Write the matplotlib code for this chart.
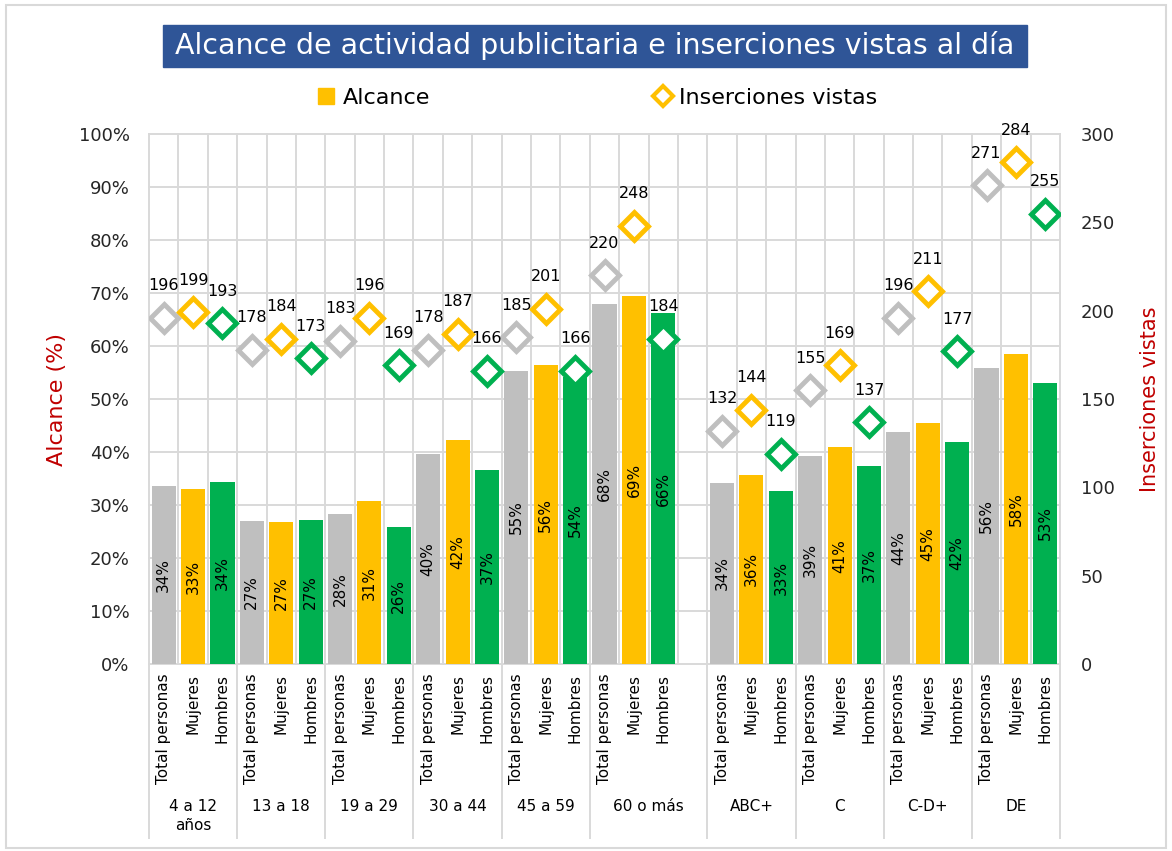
import matplotlib
matplotlib.use("Agg")
import matplotlib.pyplot as plt
from matplotlib.patches import Rectangle
from matplotlib.lines import Line2D
from matplotlib.transforms import blended_transform_factory
import numpy as np

plt.rcParams['font.family'] = ['DejaVu Sans']

grupos = ['4 a 12\naños', '13 a 18', '19 a 29', '30 a 44', '45 a 59', '60 o más',
          'ABC+', 'C', 'C-D+', 'DE']
subgrupos = ['Total personas', 'Mujeres', 'Hombres']

# alcance (%) por grupo
alcance_total = [33.6, 27.0, 28.3, 39.6, 55.3, 67.9, 34.2, 39.2, 43.7, 55.9]
alcance_mujeres = [33.0, 26.8, 30.7, 42.3, 56.4, 69.4, 35.7, 40.9, 45.4, 58.4]
alcance_hombres = [34.3, 27.2, 25.8, 36.6, 54.2, 66.2, 32.6, 37.4, 41.8, 53.1]

# inserciones vistas al dia
ins_total = [196, 178, 183, 178, 185, 220, 132, 155, 196, 271]
ins_mujeres = [199, 184, 196, 187, 201, 248, 144, 169, 211, 284]
ins_hombres = [193, 173, 169, 166, 166, 184, 119, 137, 177, 255]

colores = ['#BFBFBF', '#FFC000', '#00B050']
grid_c = '#D9D9D9'
rojo = '#C00000'

alcance = [alcance_total, alcance_mujeres, alcance_hombres]
inserciones = [ins_total, ins_mujeres, ins_hombres]

# posicion de cada grupo (hay un hueco entre edades y NSE)
base = np.array([3 * i + (1 if i >= 6 else 0) for i in range(len(grupos))])
n_slots = base[-1] + 3

fig = plt.figure(figsize=(11.72, 8.51), dpi=100)
ax = fig.add_axes([149 / 1172, 1 - 664 / 851, 911 / 1172, 530 / 851])
ax2 = ax.twinx()

# cuadricula
for t in range(0, 101, 10):
    ax.axhline(t, color=grid_c, lw=1.4, zorder=0.5, clip_on=False)
for b in np.arange(-0.5, n_slots, 1):
    ax.axvline(b, color=grid_c, lw=1.4, zorder=0.5, clip_on=False)

for j in range(3):
    xs = base + j
    vals = alcance[j]
    ax.bar(xs, vals, width=0.82, color=colores[j], zorder=2)
    for x, v in zip(xs, vals):
        ax.text(x, v / 2, f"{v:.0f}%", rotation=90, ha='center', va='center',
                fontsize=11, zorder=3)

ax.set_xlim(-0.5, n_slots - 0.5)
ax.set_ylim(0, 100)
ax.set_yticks(range(0, 101, 10))
ax.set_yticklabels([f"{t}%" for t in range(0, 101, 10)], fontsize=13, color='#262626')

ticks = np.concatenate([base + j for j in range(3)])
tick_labels = [subgrupos[j] for j in range(3) for _ in base]
ax.set_xticks(ticks)
ax.set_xticklabels(tick_labels, rotation=90, fontsize=11, va='top')
ax.tick_params(axis='x', length=0, pad=7)
ax.tick_params(axis='y', length=0, pad=14)

trans = blended_transform_factory(ax.transData, ax.transAxes)
bordes = [-0.5] + [b - 0.5 for b in base[1:]] + [n_slots - 0.5]
for b in bordes:
    ax.plot([b, b], [0, -0.328], transform=trans, color=grid_c, lw=1.4, clip_on=False)
for i, g in enumerate(grupos):
    centro = (bordes[i] + bordes[i + 1]) / 2
    ax.text(centro, -0.255, g, transform=trans, ha='center', va='top', fontsize=11,
            linespacing=1.3)

for s in ax.spines.values():
    s.set_visible(False)
for s in ax2.spines.values():
    s.set_visible(False)

# inserciones
ax2.set_ylim(0, 300)
ax2.set_yticks(range(0, 301, 50))
ax2.set_yticklabels([str(t) for t in range(0, 301, 50)], fontsize=13, color='#262626')
ax2.tick_params(axis='y', length=0, pad=15)
for j in range(3):
    xs = base + j
    ax2.plot(xs, inserciones[j], ls='none', marker='D', ms=14, mfc='white',
             mec=colores[j], mew=3.5, zorder=3)
    for x, v in zip(xs, inserciones[j]):
        ax2.annotate(str(v), (x, v), xytext=(0, 23), textcoords='offset points',
                     ha='center', va='center', fontsize=11.5)

ax.text(-0.101, 0.5, 'Alcance (%)', transform=ax.transAxes, rotation=90,
        ha='center', va='center', fontsize=16, color=rojo)
ax.text(1.099, 0.5, 'Inserciones vistas', transform=ax.transAxes, rotation=90,
        ha='center', va='center', fontsize=15, color=rojo)

# titulo
fig.patches.append(Rectangle((163 / 1172, 1 - 67 / 851), 864 / 1172, 42 / 851,
                             transform=fig.transFigure, color='#2F5597', zorder=0))
fig.text(595 / 1172, 1 - 46 / 851,
         'Alcance de actividad publicitaria e inserciones vistas al día',
         ha='center', va='center', color='white', fontsize=20.5)

# leyenda
h1 = Line2D([], [], ls='none', marker='s', color='#FFC000', ms=11)
h2 = Line2D([], [], ls='none', marker='D', mfc='white', mec='#FFC000', mew=3, ms=10)
fig.legend([h1, h2], ['Alcance', 'Inserciones vistas'], loc='center',
           bbox_to_anchor=(597 / 1172, 1 - 98 / 851), ncol=2, frameon=False,
           fontsize=16, columnspacing=10, handletextpad=0.3, handlelength=0.9)

# marco
fig.patches.append(Rectangle((6 / 1172, 3 / 851), 1160 / 1172, 843 / 851,
                             transform=fig.transFigure, fill=False, ec=grid_c, lw=1.5))

fig.savefig('out.png', dpi=100)
